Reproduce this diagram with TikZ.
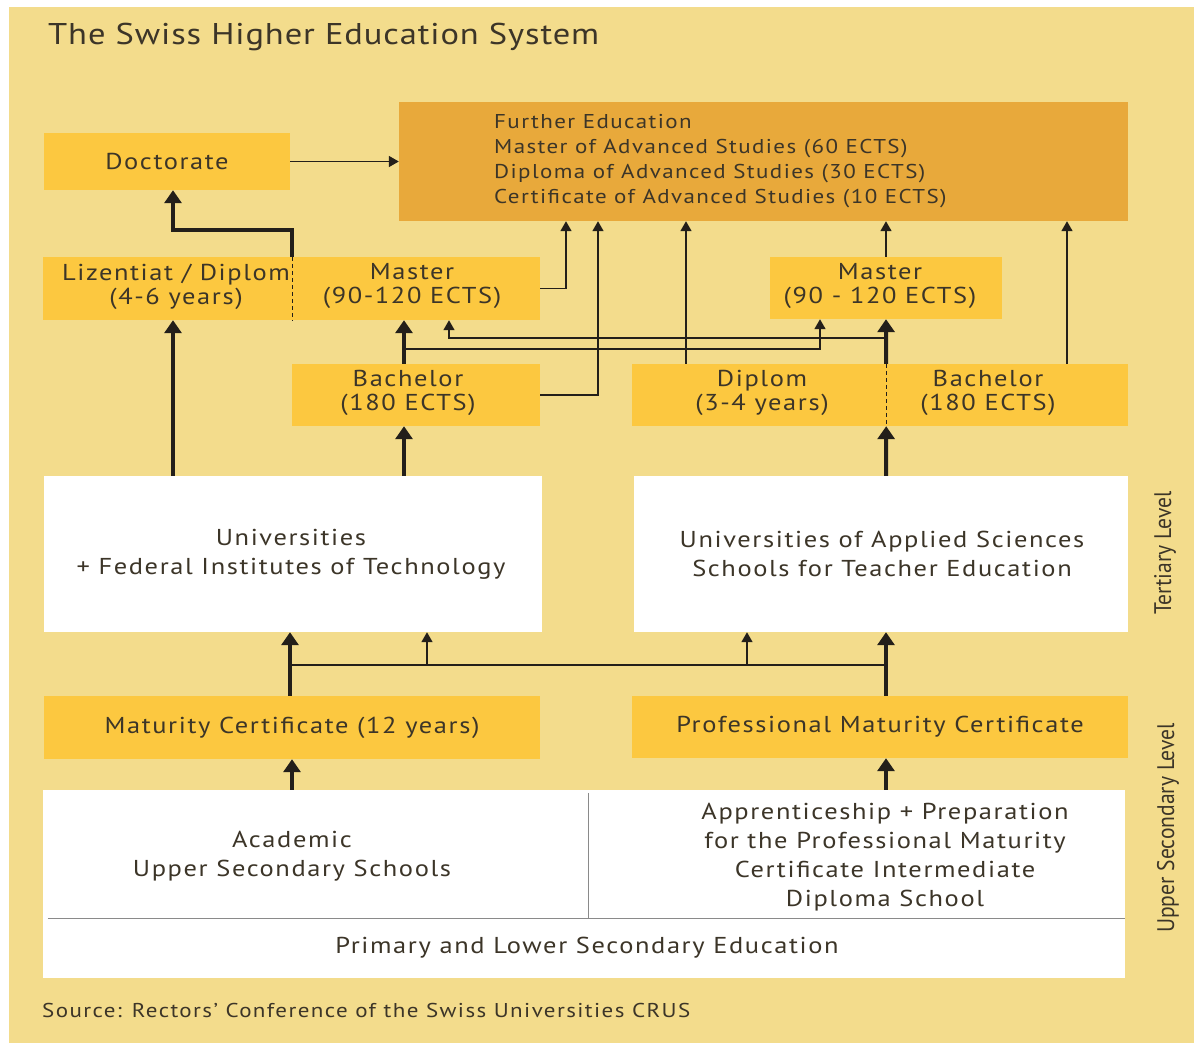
\documentclass[tikz,border=0pt]{standalone}
\usepackage{fontspec}
\setmainfont[FakeStretch=1.15, LetterSpace=7]{PT Sans}
\newfontfamily\titlefont[FakeStretch=1.15, LetterSpace=3]{PT Sans}
\newfontfamily\condfont[FakeStretch=0.9]{PT Sans}
\usetikzlibrary{arrows.meta}
\definecolor{bgc}{HTML}{F3DC8C}
\definecolor{boxc}{HTML}{FCC840}
\definecolor{fec}{HTML}{E8A93B}
\definecolor{txtc}{HTML}{3C3528}
\definecolor{lnc}{HTML}{231F1A}
\definecolor{divc}{HTML}{8A8A8A}
\tikzset{
  ybox/.style={fill=boxc, draw=none, inner sep=0pt, text=txtc, align=center, font=\fontsize{23}{24}\selectfont},
  wbox/.style={fill=white, draw=none, inner sep=0pt},
  lbl/.style={text=txtc, align=center, inner sep=0pt, font=\fontsize{23}{29}\selectfont},
  thickarr/.style={line width=4pt, draw=lnc, -{Triangle[length=13pt,width=17pt]}},
  thinarr/.style={line width=1.6pt, draw=lnc, -{Triangle[length=10pt,width=11pt]}},
  thinline/.style={line width=1.6pt, draw=lnc},
  dashline/.style={line width=1.4pt, draw=lnc, dash pattern=on 4pt off 3pt},
}
\begin{document}
\begin{tikzpicture}[x=1pt,y=-1pt]
\useasboundingbox (0,0) rectangle (1194,1043);
\fill[white] (0,0) rectangle (1194,1043);
\fill[bgc] (9,7) rectangle (1194,1043);

% title
\node[anchor=west, text=txtc, inner sep=0pt, font=\titlefont\fontsize{30}{32}\selectfont] (title) at (48,37) {The Swiss Higher Education System};

% top row
\node[ybox, minimum width=246, minimum height=57] (doc) at (167,161.5) {Doctorate};
\node[fill=fec, inner sep=0pt, minimum width=729, minimum height=119] (fe) at (763.5,161.5) {};
\node[anchor=west, text=txtc, align=left, inner sep=0pt, font=\fontsize{20}{25}\selectfont] (fetext) at (494,161.5)
  {Further Education\\Master of Advanced Studies (60 ECTS)\\Diploma of Advanced Studies (30 ECTS)\\Certificate of Advanced Studies (10 ECTS)};

% master row
\node[ybox, minimum width=249, minimum height=63] (liz) at (167.5,288.5) {};
\node[ybox] (liztext) at (176,287) {Lizentiat / Diplom\\(4-6 years)};
\node[ybox, minimum width=248, minimum height=63] (mas) at (416,288.5) {};
\node[ybox] (mastext) at (412,286) {Master\\(90-120 ECTS)};
\node[ybox, minimum width=232, minimum height=62] (mr) at (886,288) {};
\node[ybox] (mrtext) at (880,286) {Master\\(90 - 120 ECTS)};
\draw[dashline] (liz.north east) -- (liz.south east);

% bachelor row
\node[ybox, minimum width=248, minimum height=62] (bl) at (416,395) {};
\node[ybox] (bltext) at (408,393) {Bachelor\\(180 ECTS)};
\node[ybox, minimum width=254, minimum height=62] (dip) at (759,395) {};
\node[ybox] (diptext) at (762,393) {Diplom\\(3-4 years)};
\node[ybox, minimum width=242, minimum height=62] (br) at (1007,395) {};
\node[ybox] (brtext) at (988,393) {Bachelor\\(180 ECTS)};
\draw[dashline] (dip.north east) -- (dip.south east);

% institutions
\node[wbox, minimum width=498, minimum height=156] (uni) at (293,554) {};
\node[lbl] (unitext) at (291,554) {Universities\\+ Federal Institutes of Technology};
\node[wbox, minimum width=494, minimum height=156] (uas) at (881,554) {};
\node[lbl] (uastext) at (882,554) {Universities of Applied Sciences\\Schools for Teacher Education};

% maturity
\node[ybox, minimum width=496, minimum height=63] (mat) at (292,727.5) {Maturity Certificate (12 years)};
\node[ybox, minimum width=496, minimum height=62] (pmc) at (880,727) {Professional Maturity Certificate};

% secondary schools
\node[wbox, minimum width=545, minimum height=128] (aus) at (315.5,854) {};
\node[wbox, minimum width=537, minimum height=128] (app) at (856.5,854) {};
\node[wbox, minimum width=1082, minimum height=60] (prim) at (584,948) {};
\draw[line width=1.2pt, divc] (aus.north east) ++(0,3) -- (aus.south east);
\draw[line width=1.2pt, divc] (aus.south west) ++(5,0) -- (app.south east);
\node[lbl] (austext) at (292,856) {Academic\\Upper Secondary Schools};
\node[lbl] (apptext) at (885,857.5) {Apprenticeship + Preparation\\for the Professional Maturity\\Certificate Intermediate\\Diploma School};
\node[lbl] (primtext) at (587,948) {Primary and Lower Secondary Education};

% source
\node[anchor=west, text=txtc, inner sep=0pt, font=\fontsize{20}{24}\selectfont] (src) at (42,1010) {Source: Rectors’ Conference of the Swiss Universities CRUS};

% side labels
\node[rotate=90, text=txtc, inner sep=0pt, font=\condfont\fontsize{24}{26}\selectfont] (tert) at (1165,553) {Tertiary Level};
\node[rotate=90, text=txtc, inner sep=0pt, font=\condfont\fontsize{24}{26}\selectfont] (usec) at (1168,828) {Upper Secondary Level};

% column coordinates
\coordinate (c0) at (173,0);
\coordinate (c1) at (404,0);
\coordinate (c2) at (886,0);
\coordinate (c566) at (566,0);
\coordinate (c598) at (598,0);
\coordinate (c686) at (686,0);
\coordinate (c1067) at (1067,0);

% bottom arrows
\draw[thickarr] (aus.north -| mat.south) -- (mat.south);
\draw[thickarr] (app.north -| c2) -- (pmc.south -| c2);
\coordinate (j1) at (290,665);
\coordinate (j2) at (886,665);
\draw[thickarr] (mat.north -| j1) -- (uni.south -| j1);
\draw[thickarr] (pmc.north -| c2) -- (uas.south -| c2);
\draw[thinline] (j1) -- (j2);
\coordinate (a1) at (427,665);
\coordinate (a2) at (747,665);
\draw[thinarr] (a1) -- (a1 |- uni.south);
\draw[thinarr] (a2) -- (a2 |- uas.south);

% tertiary arrows
\draw[thickarr] (uni.north -| c0) -- (liz.south -| c0);
\draw[thickarr] (uni.north -| c1) -- (bl.south -| c1);
\draw[thickarr] (bl.north -| c1) -- (mas.south -| c1);
\draw[thickarr] (uas.north -| c2) -- (dip.south east);
\draw[thickarr] (dip.north east) -- (mr.south -| c2);

\coordinate (lb1) at (404,349);
\coordinate (lb2) at (820,349);
\draw[thinarr] (lb1) -- (lb2) -- (lb2 |- mr.south);
\coordinate (la1) at (886,338);
\coordinate (la2) at (449,338);
\draw[thinarr] (la1) -- (la2) -- (la2 |- mas.south);

% to further education
\draw[thinarr] (mas.east) -| (c566 |- fe.south);
\draw[thinarr] (bl.east) -| (c598 |- fe.south);
\draw[thinarr] (dip.north -| c686) -- (c686 |- fe.south);
\draw[thinarr] (mr.north) -- (mr.north |- fe.south);
\draw[thinarr] (br.north -| c1067) -- (c1067 |- fe.south);
\draw[thinarr] (doc.east) -- (fe.west);

% doctorate
\coordinate (k) at (173,230);
\draw[thickarr] (liz.north east) |- (k) -- (k |- doc.south);
\end{tikzpicture}
\end{document}
